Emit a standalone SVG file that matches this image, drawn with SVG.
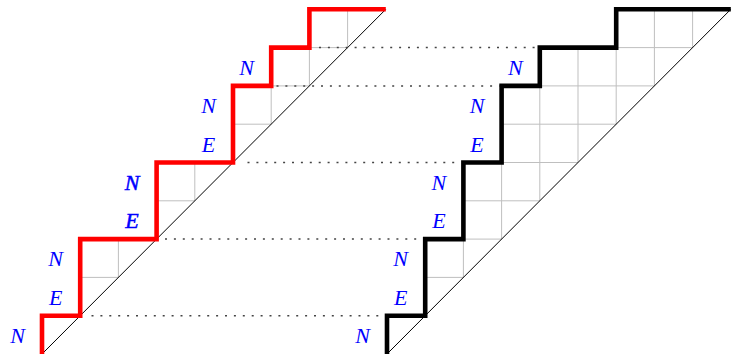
<svg xmlns="http://www.w3.org/2000/svg" width="731" height="354" viewBox="0 0 731 354">
<style>
.grid{stroke:#bfbfbf;stroke-width:1;fill:none}
.diag{stroke:#000;stroke-width:1;fill:none}
.dot{stroke:#444;stroke-width:1.5;stroke-dasharray:2 6.9;fill:none}
.red{stroke:#ff0000;stroke-width:4.6;fill:none;stroke-linejoin:miter;stroke-linecap:butt}
.blk{stroke:#000;stroke-width:4.6;fill:none;stroke-linejoin:miter;stroke-linecap:butt}
.lab{font-family:"Liberation Serif","Times New Roman",serif;font-style:italic;font-size:22px;fill:#0000ff;text-anchor:middle}
.bold{stroke:#0000ff;stroke-width:0.5}
</style>
<rect width="731" height="354" fill="#fff"/>
<g id="left-diagram">
<path class="grid" d="M118.4 277.4V239.1M194.8 200.8V162.5M271.2 124.2V85.9M309.4 85.9V47.6M347.6 47.6V9.3M80.2 277.4H118.4M156.6 200.8H194.8M233 124.2H271.2M271.2 85.9H309.4M309.4 47.6H347.6"/>
<line class="diag" x1="42" y1="354" x2="385.8" y2="9.3"/>
</g>
<g id="right-diagram">
<path class="grid" d="M463.4 277.4V239.1M501.6 239.1V162.5M539.8 200.8V85.9M578 162.5V47.6M616.2 124.2V47.6M654.4 85.9V9.3M692.6 47.6V9.3M425.2 277.4H463.4M463.4 239.1H501.6M463.4 200.8H539.8M501.6 162.5H578M501.6 124.2H616.2M539.8 85.9H654.4M616.2 47.6H692.6"/>
<line class="diag" x1="387" y1="354" x2="730.8" y2="9.3"/>
</g>
<g id="connectors">
<line class="dot" x1="91.5" y1="315.7" x2="385" y2="315.7"/>
<line class="dot" x1="165" y1="239.1" x2="423" y2="239.1"/>
<line class="dot" x1="247.5" y1="162.5" x2="461" y2="162.5"/>
<line class="dot" x1="276.5" y1="85.9" x2="499.5" y2="85.9"/>
<line class="dot" x1="319" y1="47.6" x2="537.5" y2="47.6"/>
</g>
<g id="red-path">
<polyline class="red" points="42,355 42,315.7 80.2,315.7 80.2,239.1 156.6,239.1 156.6,162.5 233,162.5 233,85.9 271.2,85.9 271.2,47.6 309.4,47.6 309.4,9.3 385.8,9.3"/>
</g>
<g id="black-path">
<polyline class="blk" points="387,355 387,315.7 425.2,315.7 425.2,239.1 463.4,239.1 463.4,162.5 501.6,162.5 501.6,85.9 539.8,85.9 539.8,47.6 616.2,47.6 616.2,9.3 730.8,9.3"/>
</g>
<g id="left-labels">
<text class="lab" x="17.5" y="343">N</text>
<text class="lab" x="55.7" y="304.7">E</text>
<text class="lab" x="55.7" y="266.4">N</text>
<text class="lab bold" x="132.1" y="228.1">E</text>
<text class="lab bold" x="132.1" y="189.8">N</text>
<text class="lab" x="208.5" y="151.5">E</text>
<text class="lab" x="208.5" y="113.2">N</text>
<text class="lab" x="246.7" y="74.9">N</text>
</g>
<g id="right-labels">
<text class="lab" x="362.5" y="343">N</text>
<text class="lab" x="400.7" y="304.7">E</text>
<text class="lab" x="400.7" y="266.4">N</text>
<text class="lab" x="438.9" y="228.1">E</text>
<text class="lab" x="438.9" y="189.8">N</text>
<text class="lab" x="477.1" y="151.5">E</text>
<text class="lab" x="477.1" y="113.2">N</text>
<text class="lab" x="515.3" y="74.9">N</text>
</g>
</svg>
